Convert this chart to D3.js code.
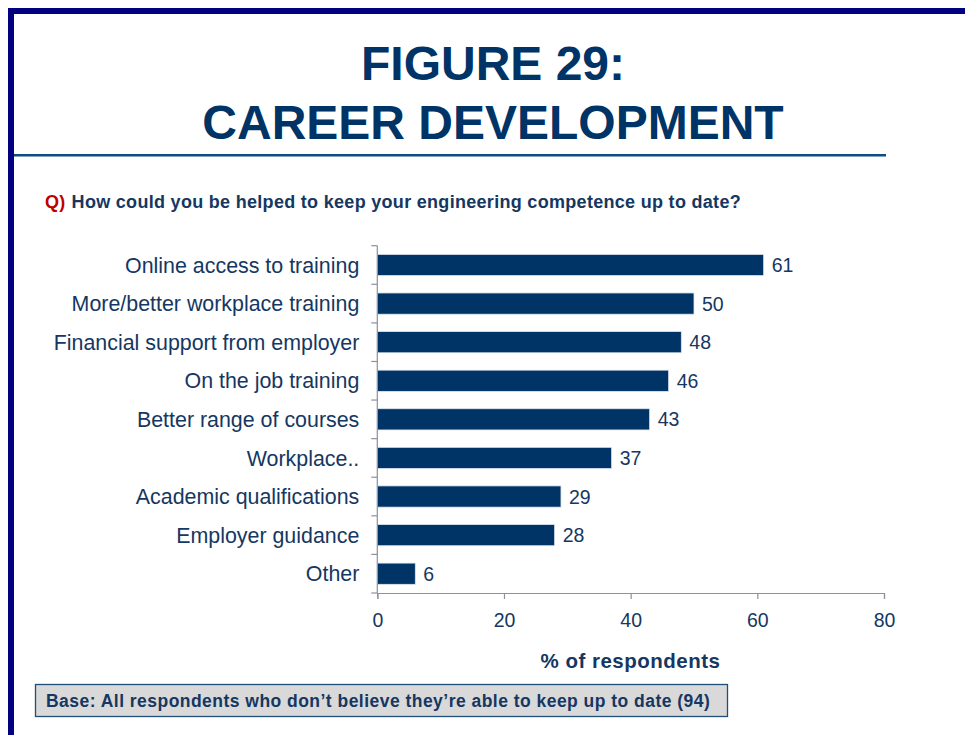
<!DOCTYPE html>
<html>
<head>
<meta charset="utf-8">
<script src="https://cdn.jsdelivr.net/npm/d3@7"></script>
<style>
  html, body { margin: 0; padding: 0; background: #fff; }
  svg { display: block; font-family: Arial, "Liberation Sans", sans-serif; }
</style>
</head>
<body>
<svg id="chart" width="965" height="735"></svg>
<script>
// Survey responses: share of respondents choosing each kind of help
const categories = [
  "Online access to training",
  "More/better workplace training",
  "Financial support from employer",
  "On the job training",
  "Better range of courses",
  "Workplace..",
  "Academic qualifications",
  "Employer guidance",
  "Other"
];
const values = [61, 50, 48, 46, 43, 37, 29, 28, 6];
const xTicks = [0, 20, 40, 60, 80];

const titleLines = ["FIGURE 29:", "CAREER DEVELOPMENT"];
const questionPrefix = "Q)";
const questionText = "How could you be helped to keep your engineering competence up to date?";
const axisTitle = "% of respondents";
const baseNote = "Base: All respondents who don\u2019t believe they\u2019re able to keep up to date (94)";

const navy = "#003366";
const textNavy = "#153761";
const axisGrey = "#8c90a0";

const svg = d3.select("#chart");

// Page frame
svg.append("rect").attr("x", 8).attr("y", 8).attr("width", 957).attr("height", 6).attr("fill", "#000080");
svg.append("rect").attr("x", 8).attr("y", 8).attr("width", 6).attr("height", 727).attr("fill", "#000080");

// Title block
svg.append("text").attr("x", 493).attr("y", 80).attr("text-anchor", "middle")
  .attr("font-size", 48).attr("font-weight", "bold").attr("fill", navy).text(titleLines[0]);
svg.append("text").attr("x", 493).attr("y", 139).attr("text-anchor", "middle")
  .attr("font-size", 48).attr("font-weight", "bold").attr("fill", navy).text(titleLines[1]);
svg.append("rect").attr("x", 14).attr("y", 154).attr("width", 872).attr("height", 2.5).attr("fill", "#0f4c81");

// Question line
const q = svg.append("text").attr("x", 45).attr("y", 207.5).attr("font-size", 18)
  .attr("font-weight", "bold").attr("letter-spacing", 0.3);
q.append("tspan").attr("fill", "#c00000").text(questionPrefix);
q.append("tspan").attr("fill", textNavy).attr("dx", 6).text(questionText);

// Chart area
const x = d3.scaleLinear().domain([0, 80]).range([377.3, 884]);
const y = d3.scaleBand().domain(categories).range([245.7, 593]).paddingInner(0.45).paddingOuter(0.225);

const plot = svg.append("g");

// Bars
plot.selectAll("rect.bar").data(values).join("rect")
  .attr("class", "bar")
  .attr("x", x(0))
  .attr("y", (d, i) => y(categories[i]))
  .attr("width", d => x(d) - x(0))
  .attr("height", y.bandwidth())
  .attr("fill", navy)
  .attr("stroke", "#dfe6ef")
  .attr("stroke-width", 0.8);

// Value labels
plot.selectAll("text.val").data(values).join("text")
  .attr("class", "val")
  .attr("x", d => x(d) + 8)
  .attr("y", (d, i) => y(categories[i]) + y.bandwidth() / 2)
  .attr("dy", "0.36em")
  .attr("font-size", 19.5)
  .attr("fill", textNavy)
  .text(d => d);

// Y axis with ticks between categories
const yAxisG = svg.append("g").attr("transform", `translate(${x(0)},0)`);
yAxisG.append("line").attr("x1", 0).attr("x2", 0).attr("y1", 245.7).attr("y2", 593)
  .attr("stroke", axisGrey).attr("stroke-width", 1.2);
const step = y.step();
const bounds = d3.range(categories.length + 1).map(i => 245.7 + i * step);
yAxisG.selectAll("line.tk").data(bounds).join("line").attr("class", "tk")
  .attr("x1", -6).attr("x2", 0).attr("y1", d => d).attr("y2", d => d)
  .attr("stroke", axisGrey).attr("stroke-width", 1.2);
yAxisG.selectAll("text.cat").data(categories).join("text").attr("class", "cat")
  .attr("x", -18).attr("y", d => y(d) + y.bandwidth() / 2).attr("dy", "0.36em")
  .attr("text-anchor", "end").attr("font-size", 21.4).attr("fill", textNavy).text(d => d);

// X axis
const xAxis = d3.axisBottom(x).tickValues(xTicks).tickSize(6).tickPadding(14).tickFormat(d3.format("d"));
const xAxisG = svg.append("g").attr("transform", "translate(0,593)").call(xAxis);
xAxisG.select(".domain").attr("stroke", axisGrey).attr("stroke-width", 1.2);
xAxisG.selectAll(".tick line").attr("stroke", axisGrey).attr("stroke-width", 1.2);
xAxisG.selectAll(".tick text").attr("font-size", 19.5).attr("fill", textNavy)
  .attr("font-family", "Arial, 'Liberation Sans', sans-serif");

svg.append("text").attr("x", 630.5).attr("y", 668).attr("text-anchor", "middle")
  .attr("font-size", 20.5).attr("font-weight", "bold").attr("letter-spacing", 0.5)
  .attr("fill", textNavy).text(axisTitle);

// Base note box
svg.append("rect").attr("x", 35.5).attr("y", 684.5).attr("width", 692).attr("height", 32)
  .attr("fill", "#d9d9d9").attr("stroke", "#1f4e79").attr("stroke-width", 1.3);
svg.append("text").attr("x", 46).attr("y", 707).attr("font-size", 17.5).attr("font-weight", "bold")
  .attr("letter-spacing", 0.47).attr("fill", textNavy).text(baseNote);
</script>
</body>
</html>
